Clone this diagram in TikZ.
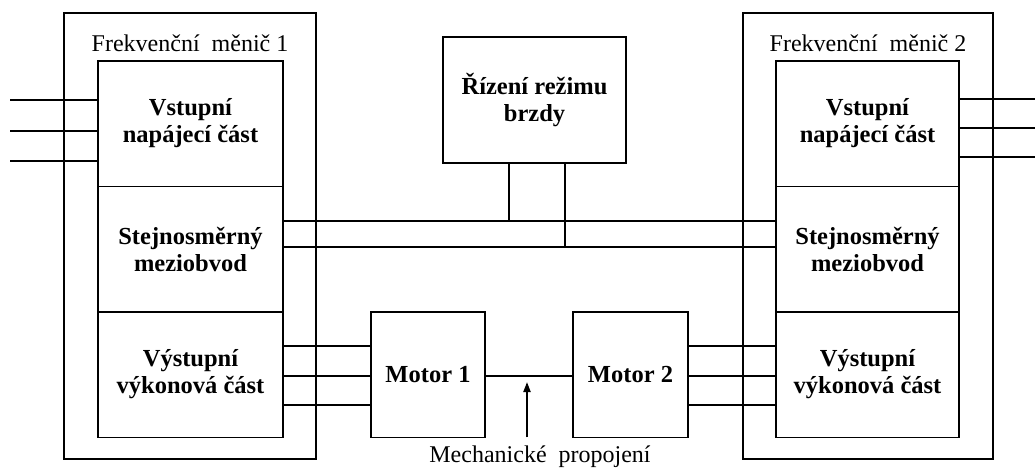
\documentclass[tikz,border=0pt]{standalone}
\usepackage{fontspec}
\setmainfont{Liberation Serif}
\usetikzlibrary{arrows.meta,positioning}
\tikzset{
 drv frame/.style={draw,line width=1.5pt,inner sep=0pt,outer sep=0pt},
 drv block/.style={draw,line width=1.5pt,minimum height=125.5pt,align=center,
                   inner sep=0pt,outer sep=0pt,
                   font=\fontsize{24.5}{27}\selectfont\bfseries},
 drv title/.style={font=\fontsize{24}{28}\selectfont,inner sep=0pt},
 drv wire/.style={line width=2pt}
}
\begin{document}
\begin{tikzpicture}[x=1pt,y=-1pt]
 \useasboundingbox (0,0) rectangle (1035,469);
 % frekvencni menice
 \node[drv frame,minimum width=252pt,minimum height=446pt] (fm1) at (190,236) {};
 \node[drv frame,minimum width=250pt,minimum height=446pt] (fm2) at (868,236) {};
 \node[drv title] (fm1 lbl) at ([yshift=-30pt]fm1.north) {Frekvenční~~měnič 1};
 \node[drv title] (fm2 lbl) at ([yshift=-30pt]fm2.north) {Frekvenční~~měnič 2};

 \node[drv block,minimum width=185pt] (in1) at (190.5,123.5) {Vstupní\\napájecí část};
 \node[drv block,minimum width=185pt,below=0pt of in1] (dc1) {Stejnosměrný\\meziobvod};
 \node[drv block,minimum width=185pt,below=0pt of dc1] (out1) {Výstupní\\výkonová část};
 \node[drv block,minimum width=183pt] (in2) at (867.5,123.5) {Vstupní\\napájecí část};
 \node[drv block,minimum width=183pt,below=0pt of in2] (dc2) {Stejnosměrný\\meziobvod};
 \node[drv block,minimum width=183pt,below=0pt of dc2] (out2) {Výstupní\\výkonová část};

 \node[drv block,minimum width=183pt,minimum height=126pt] (brake) at (534.5,100) {Řízení režimu\\brzdy};
 \node[drv block,minimum width=114pt] (mot1) at (428,374.5) {Motor 1};
 \node[drv block,minimum width=115pt] (mot2) at (630.5,374.5) {Motor 2};

 % napajeni
 \foreach \y [count=\i] in {100,131,161} {
  \coordinate (l\i) at (10,\y);
  \draw[drv wire] (l\i) -- (l\i -| in1.west);
 }
 \foreach \y [count=\i] in {99,128,157} {
  \coordinate (r\i) at (1035,\y);
  \draw[drv wire] (r\i -| in2.east) -- (r\i);
 }
 % vystupy na motory
 \foreach \y [count=\i] in {346,376,405} {
  \coordinate (o\i) at (0,\y);
  \draw[drv wire] (o\i -| out1.east) -- (o\i -| mot1.west);
  \draw[drv wire] (o\i -| mot2.east) -- (o\i -| out2.west);
 }

 % ss sbernice a brzda
 \coordinate (busT) at (0,221);
 \coordinate (busB) at (0,247);
 \coordinate (tapA) at (509,0);
 \coordinate (tapB) at (565,0);
 \draw[drv wire] (busT -| dc1.east) -- (busT -| dc2.west);
 \draw[drv wire] (busB -| dc1.east) -- (busB -| dc2.west);
 \draw[drv wire] (tapA |- brake.south) -- (tapA |- busT);
 \draw[drv wire] (tapB |- brake.south) -- (tapB |- busB);

 % hridel
 \coordinate (shaft) at (527,376);
 \draw[drv wire] (mot1.east |- shaft) -- (mot2.west |- shaft);
 \draw[drv wire,-{Triangle[length=10pt,width=7pt]}] (shaft |- mot1.south) -- ([yshift=-6pt]shaft);
 \node[drv title] (mech lbl) at (540,457) {Mechanické~~propojení};
\end{tikzpicture}
\end{document}
